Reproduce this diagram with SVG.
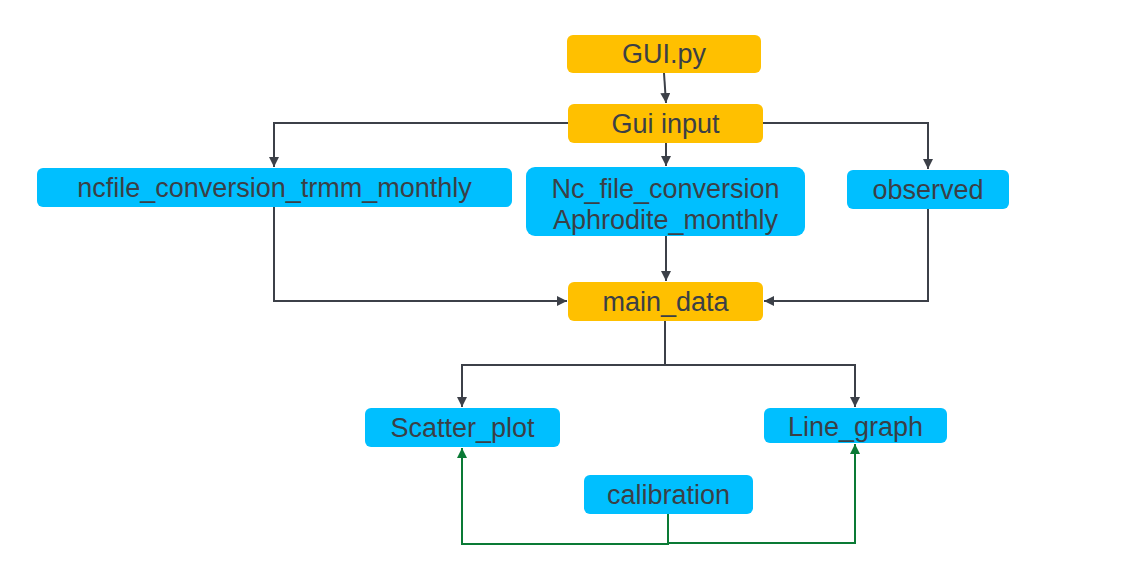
<svg xmlns="http://www.w3.org/2000/svg" width="1123" height="564" viewBox="0 0 1123 564">
<style>
.o{fill:#FFC000}
.b{fill:#00BFFF}
.t{font-family:"Liberation Sans",Arial,sans-serif;font-size:27px;fill:#3B3F46;text-anchor:middle}
.c{fill:none;stroke:#3C4048;stroke-width:2}
.g{fill:none;stroke:#0A7A35;stroke-width:2}
</style>
<defs>
<marker id="ad" markerWidth="10" markerHeight="10" refX="10" refY="5" orient="auto" markerUnits="userSpaceOnUse"><path d="M0,0 L10,5 L0,10 z" fill="#3C4048"/></marker>
<marker id="ag" markerWidth="10" markerHeight="10" refX="10" refY="5" orient="auto" markerUnits="userSpaceOnUse"><path d="M0,0 L10,5 L0,10 z" fill="#0A7A35"/></marker>
</defs>
<rect width="1123" height="564" fill="#fff"/>
<g id="connectors">
<path class="c" d="M664,73 L666,103" marker-end="url(#ad)"/>
<path class="c" d="M568,123 L274,123 L274,167" marker-end="url(#ad)"/>
<path class="c" d="M666,143 L666,166" marker-end="url(#ad)"/>
<path class="c" d="M763,123 L928,123 L928,169" marker-end="url(#ad)"/>
<path class="c" d="M274,207 L274,301 L567,301" marker-end="url(#ad)"/>
<path class="c" d="M666,236 L666,281" marker-end="url(#ad)"/>
<path class="c" d="M928,209 L928,301 L764,301" marker-end="url(#ad)"/>
<path class="c" d="M665,321 L665,365 L462,365 L462,407" marker-end="url(#ad)"/>
<path class="c" d="M665,365 L855,365 L855,407" marker-end="url(#ad)"/>
<path class="g" d="M668,514 L668,544 L462,544 L462,448" marker-end="url(#ag)"/>
<path class="g" d="M668,543 L855,543 L855,444" marker-end="url(#ag)"/>
</g>
<g id="gui_py"><rect class="o" x="567" y="35" width="194" height="38" rx="6"/><text class="t" x="664" y="63">GUI.py</text></g>
<g id="gui_input"><rect class="o" x="568" y="104" width="195" height="39" rx="6"/><text class="t" x="665.5" y="133">Gui input</text></g>
<g id="ncfile_trmm"><rect class="b" x="37" y="168" width="475" height="39" rx="6"/><text class="t" x="274.5" y="197">ncfile_conversion_trmm_monthly</text></g>
<g id="nc_aphrodite"><rect class="b" x="526" y="167" width="279" height="69" rx="9"/><text class="t" x="665.5" y="198">Nc_file_conversion</text><text class="t" x="665.5" y="229">Aphrodite_monthly</text></g>
<g id="observed"><rect class="b" x="847" y="170" width="162" height="39" rx="6"/><text class="t" x="928" y="199">observed</text></g>
<g id="main_data"><rect class="o" x="568" y="282" width="195" height="39" rx="6"/><text class="t" x="665.5" y="311">main_data</text></g>
<g id="scatter_plot"><rect class="b" x="365" y="408" width="195" height="39" rx="6"/><text class="t" x="462.5" y="437">Scatter_plot</text></g>
<g id="line_graph"><rect class="b" x="764" y="408" width="183" height="35" rx="6"/><text class="t" x="855.5" y="436">Line_graph</text></g>
<g id="calibration"><rect class="b" x="584" y="475" width="169" height="39" rx="6"/><text class="t" x="668.5" y="504">calibration</text></g>
</svg>
